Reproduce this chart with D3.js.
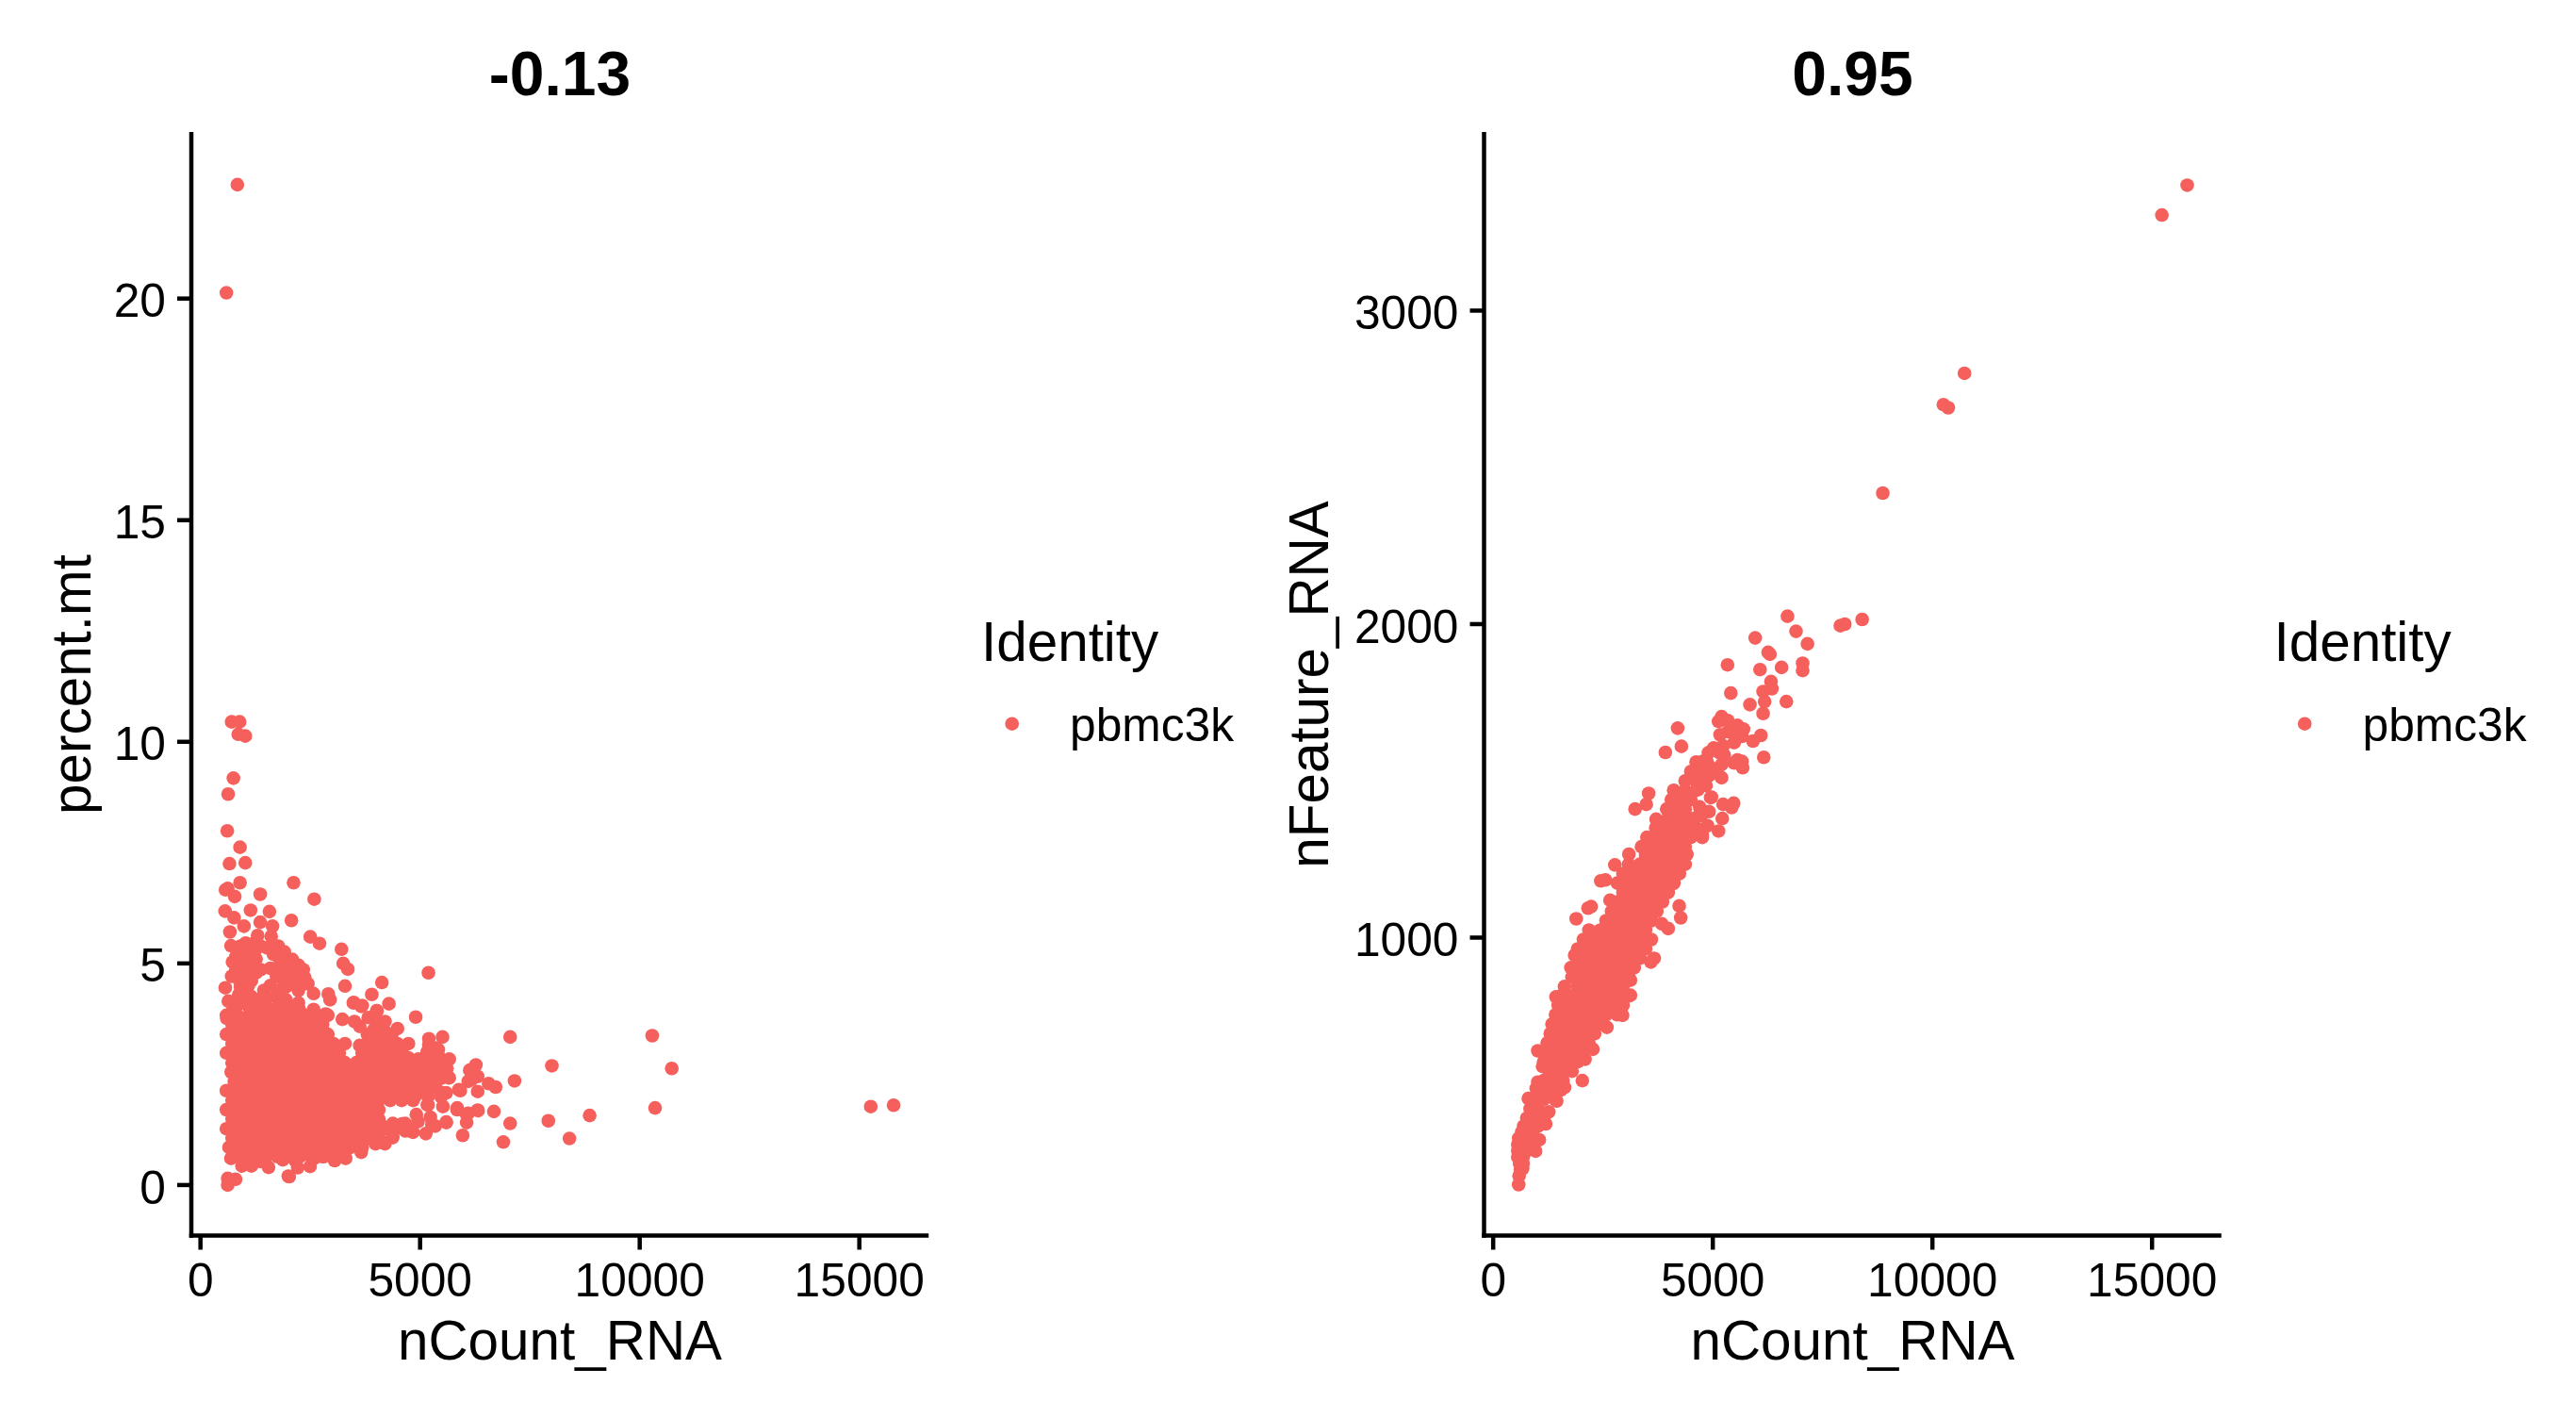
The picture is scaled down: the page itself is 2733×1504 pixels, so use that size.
<!DOCTYPE html>
<html>
<head>
<meta charset="utf-8">
<script src="https://d3js.org/d3.v7.min.js"></script>
<style>
  body { margin: 0; background: #fff; }
  text { font-family: "Liberation Sans", Arial, sans-serif; fill: #000; }
</style>
</head>
<body>
<svg id="drawing_region"></svg>
<script>
// values, [nCount_RNA, percent.mt]
const mtOutliers = [
  [15780,1.8],[15260,1.77],[10730,2.63],[10285,3.37],[10350,1.74],
  [840,22.57],[590,20.13],[710,10.45],[890,10.45],[860,10.17],[1020,10.13],[750,9.18],[630,8.82],[610,7.99],
  [900,7.62],[660,7.25],[1020,7.27],[900,6.82],[2120,6.82],[2590,6.45],[1360,6.56],[570,6.66],[620,6.69],[780,6.51],
  [560,6.18],[1140,6.2],[1570,6.17],[765,6.03],[990,5.84],[1360,5.93],[2070,5.97],[1640,5.84],[670,5.71],[1300,5.63],
  [1610,5.61],[695,5.4],[2500,5.6],[2710,5.45],[3210,5.32],[3250,5],[3355,4.87],[5190,4.79],[4130,4.57],[3290,4.49],
  [3900,4.3],[4290,4.09],[3490,4.12],[3680,4.05],[4900,3.79],[4010,3.93],[2910,4.31],[2950,4.18],
  [7050,3.34],[8000,2.69],[7150,2.35],[7920,1.45],[8860,1.57],[8400,1.05],[6895,0.97],[7050,1.39],[6680,1.66],[5970,1.12],
  [6270,2.71],[6720,2.21],[6560,2.29],[6310,2.11],[6320,1.68],[6130,2.59],[6170,2.38],[6095,2.34],[6060,1.41],[6095,1.62],
  [5845,1.71],[5595,1.41],[5915,2.13],[5520,2.08],[5665,2.42],[5665,2.84],[5510,3.34],[5200,3.3],[5415,3.05],[5165,3.01],
  [5130,1.16],[5345,1.33],[620,0.15],[800,0.13],[620,0],[2020,0.19],[1550,0.4],[3660,0.74],
  [5200,3.16],[5380,3.09],[6310,2.45],[5480,1.99],[5180,1.99],[5165,1.81],[5845,1.74],[6310,1.69],[5235,1.53],[4805,1.21],[4665,1.22],[4375,1.07],[4200,0.93],[3985,0.93]
];
const mtEdge = [
  [1030,5.46],[1160,5.25],[1515,5.35],[1770,5.39],[1910,5.26],[870,5.25],[730,5.03],[1160,5.1],[1370,5.39],[2090,5.09],
  [2230,4.96],[2340,4.86],[1590,4.89],[1800,4.86],[2020,4.79],[2195,4.75],[1160,4.89],[945,4.96],[710,4.71],[1265,4.79],
  [1090,4.71],[2090,4.61],[2445,4.54],[565,4.45],[910,4.47],[1090,4.5],[1590,4.5],[1445,4.39],[1800,4.39],[2230,4.39],
  [2575,4.32],[635,4.15],[870,4.29],[1300,4.18],[1515,4.22],[1730,4.25],[1945,4.18],[2230,4.11],[870,4.08],[1090,4.04],
  [1265,4.04],[1515,4],[1770,4.04],[2020,4],[2245,3.97],[2575,3.96],[730,3.93],[600,3.76],[3480,4.11],[3660,4.03],
  [2850,3.86],[3230,3.74],[3505,3.69],[3820,3.78],[4020,3.93],[4200,3.69],[4485,3.53],[3950,3.51],[4235,3.44],[4020,3.65],
  [3625,3.58],[3625,3.15],[3880,3.19],[4485,3.19],[4735,3.19],[4165,3.19],[5165,2.98],[4305,2.91],[4590,2.98],[4735,2.87],
  [5450,2.73],[5165,2.62],[4880,2.69],[5650,2.42],[5880,2.15],[5595,2.08],[5305,2.34],[5020,2.45],[5380,2.55],[5165,2.06],
  [5180,1.81],[5520,1.77],[5845,1.7],[6060,1.59],[5595,1.42],[5270,1.35],[4840,1.19],[4590,1.38],[4915,1.59],[4375,1.1],
  [4165,0.96],[3950,1],[3305,0.6],[3055,0.55],[2805,0.64],[2495,0.42],[2215,0.39],[2000,0.2],[1160,0.43],[945,0.43],
  [695,0.6],[1370,0.53],[1875,0.57],[2160,0.55],[2590,0.6],
  [910,5.39],[1050,5.25],[980,4.79],[1265,5.1],[1160,4.61],[1875,4.64],[800,4.82],[1945,4.47],[1160,4.25],[945,4.61],[1875,4.89],
  [800,5.35],[1230,5.46],[1230,5.28],[800,5.14],[1050,5.1],[945,4.89],[800,4.96],[1195,4.93],[1375,4.86],[875,4.64],[1125,4.64],
  [1800,5.1],[1660,5.21],[1945,5],[2160,4.89],[2375,4.68],[1945,4.54],[2230,4.57],[1730,4.71],[1085,4.29],
  [3750,3.15],[4000,3.1],[4300,3.05],[4600,3.1],[3800,3.4],[4000,3.35],[4350,3.35]
];
const mtCore = [
  [590,3.83],[840,3.83],[1100,3.83],[1360,3.83],[1620,3.83],[1870,3.83],[2130,3.83],[2390,3.83],[2650,3.83],[2900,3.83],
  [720,3.62],[970,3.62],[1230,3.62],[1490,3.62],[1750,3.62],[2000,3.62],[2260,3.62],[2520,3.62],[2780,3.62],
  [590,3.4],[840,3.4],[1100,3.4],[1360,3.4],[1620,3.4],[1870,3.4],[2130,3.4],[2390,3.4],[2650,3.4],[2900,3.4],
  [720,3.19],[970,3.19],[1230,3.19],[1490,3.19],[1750,3.19],[2000,3.19],[2260,3.19],[2520,3.19],[2780,3.19],[3030,3.19],[3290,3.19],
  [590,2.98],[840,2.98],[1100,2.98],[1360,2.98],[1620,2.98],[1870,2.98],[2130,2.98],[2390,2.98],[2650,2.98],[2900,2.98],[3160,2.98],[3680,2.98],[3930,2.98],[4190,2.98],
  [720,2.76],[970,2.76],[1230,2.76],[1490,2.76],[1750,2.76],[2000,2.76],[2260,2.76],[2520,2.76],[2780,2.76],[3030,2.76],[3290,2.76],[3550,2.76],[3810,2.76],[4060,2.76],[4320,2.76],[4580,2.76],
  [700,2.55],[840,2.55],[1100,2.55],[1360,2.55],[1620,2.55],[1870,2.55],[2130,2.55],[2390,2.55],[2650,2.55],[2900,2.55],[3160,2.55],[3420,2.55],[3680,2.55],[3930,2.55],[4190,2.55],[4450,2.55],[4710,2.55],
  [770,2.34],[970,2.34],[1230,2.34],[1490,2.34],[1750,2.34],[2000,2.34],[2260,2.34],[2520,2.34],[2780,2.34],[3030,2.34],[3290,2.34],[3550,2.34],[3810,2.34],[4060,2.34],[4320,2.34],[4580,2.34],[4840,2.34],
  [590,2.13],[840,2.13],[1100,2.13],[1360,2.13],[1620,2.13],[1870,2.13],[2130,2.13],[2390,2.13],[2650,2.13],[2900,2.13],[3160,2.13],[3420,2.13],[3680,2.13],[3930,2.13],[4190,2.13],[4450,2.13],[4710,2.13],[4960,2.13],
  [720,1.91],[970,1.91],[1230,1.91],[1490,1.91],[1750,1.91],[2000,1.91],[2260,1.91],[2520,1.91],[2780,1.91],[3030,1.91],[3290,1.91],[3550,1.91],[3810,1.91],[4060,1.91],[4320,1.91],[4580,1.91],[4840,1.91],
  [590,1.7],[840,1.7],[1100,1.7],[1360,1.7],[1620,1.7],[1870,1.7],[2130,1.7],[2390,1.7],[2650,1.7],[2900,1.7],[3160,1.7],[3420,1.7],[3680,1.7],[3930,1.7],[4060,1.7],
  [720,1.49],[970,1.49],[1230,1.49],[1490,1.49],[1750,1.49],[2000,1.49],[2260,1.49],[2520,1.49],[2780,1.49],[3030,1.49],[3290,1.49],[3550,1.49],[3810,1.49],[4060,1.49],
  [590,1.27],[840,1.27],[1100,1.27],[1360,1.27],[1620,1.27],[1870,1.27],[2130,1.27],[2390,1.27],[2650,1.27],[2900,1.27],[3160,1.27],[3420,1.27],[3680,1.27],[3930,1.27],[4190,1.27],[4450,1.27],[4710,1.27],
  [720,1.06],[970,1.06],[1230,1.06],[1490,1.06],[1750,1.06],[2000,1.06],[2260,1.06],[2520,1.06],[2780,1.06],[3030,1.06],[3290,1.06],[3550,1.06],[3810,1.06],[4060,1.06],
  [650,0.85],[840,0.85],[1100,0.85],[1360,0.85],[1620,0.85],[1870,0.85],[2130,0.85],[2390,0.85],[2650,0.85],[2900,0.85],[3160,0.85],[3420,0.85],[3680,0.85],
  [720,0.64],[970,0.64],[1230,0.64],[1490,0.64],[1750,0.64],[2000,0.64],[2260,0.64],[2520,0.64],[2780,0.64],[3030,0.64],[3290,0.64],
  // right-hand part of the dense area
  [3930,2.84],[4190,2.84],[4450,2.84],[4710,2.84],[4960,2.84],[5220,2.84],[5480,2.84],
  [3805,2.63],[4060,2.63],[4320,2.63],[4580,2.63],[4835,2.63],[5090,2.63],[5350,2.63],[5610,2.63],
  [3930,2.41],[4190,2.41],[4450,2.41],[4710,2.41],[4960,2.41],[5220,2.41],[5480,2.41],
  [3805,2.2],[4060,2.2],[4320,2.2],[4580,2.2],[4835,2.2],[5090,2.2],[5350,2.2],
  [3930,1.99],[4190,1.99],[4450,1.99],[4710,1.99],[4880,1.99],
  [3805,1.39],[4090,1.39],[4380,1.39],[4660,1.39],[4950,1.43]
];

// [nCount_RNA, nFeature_RNA]
const featureOutliers = [
  [15800,3400],[15225,3305],[10730,2800],[10250,2700],[10360,2690],[8870,2418],
  [6700,2025],[6895,1977],[7155,1937],[5965,1956],[6260,1910],[6300,1904],[7045,1875],[7045,1852],[6565,1862],[6075,1855],
  [5335,1870],[6325,1817],[6345,1794],[6145,1785],[5410,1780],[6180,1753],[6675,1753],[5845,1743],[6145,1715],
  [7905,1995],[8005,2000],[8400,2015],[5915,1627],[6095,1645],[6160,1575],[5665,1562],[5680,1542],[5235,1425],[5475,1429],[5430,1415],
  [5215,1380],[5130,1340],[4880,1357],[4760,1327],[4200,1668],[4285,1610],[3920,1591],[3230,1410],[3485,1425],[3540,1460],[3710,1378]
];
const featureCore = [
  [5200,1705],[5130,1690],[5345,1692],[5560,1677],[5700,1665],[5165,1647],[5345,1657],[5520,1650],[5665,1642],[5485,1622],
  [5020,1605],[5235,1612],[5260,1582],[5560,1567],[5485,1557],[4770,1562],[4915,1547],[5200,1552],[5060,1537],[5200,1510],
  [4770,1527],[4630,1507],[4915,1517],[4810,1487],[4950,1447],[4665,1472],[4915,1402],[4700,1417],[4665,1387],
  [4900,1590],[5150,1590],[4620,1560],[4870,1560],[4500,1530],[4750,1530],[4370,1500],[4620,1500],[4800,1500],
  [4985,1525],[4845,1485],[4970,1448],[4770,1405],[4735,1390],[4555,1345],[4200,1385],[3985,1405],
  [4110,1470],[4370,1470],[4620,1470],[4056,1440],[4240,1440],[4500,1440],[3950,1410],[4110,1410],[4370,1410],
  [3980,1380],[4240,1380],[4480,1380],[3700,1350],[3860,1350],[4110,1350],[4370,1350],[4620,1350],
  [3500,1320],[3720,1320],[3980,1320],[4240,1320],[4500,1320],[4760,1320],[3376,1290],[3600,1290],[3850,1290],[4110,1290],[4370,1290],
  [3090,1266],[4410,1266],[3470,1264],[3730,1264],[3985,1264],[4240,1264],
  [3085,1234],[3340,1234],[3600,1234],[3855,1234],[4115,1234],[4370,1234],[2770,1232],
  [2955,1204],[3210,1204],[3470,1204],[3725,1204],[3985,1204],[4240,1204],
  [2450,1181],[2555,1184],[2825,1174],[3085,1174],[3340,1174],[3600,1174],[3855,1174],[4115,1174],
  [2955,1144],[3210,1144],[3470,1144],[3725,1144],[3985,1144],
  [2660,1119],[2825,1114],[3085,1114],[3340,1114],[3600,1114],[3855,1114],
  [2230,1099],[2160,1094],[4235,1101],[2695,1084],[2955,1084],[3210,1084],[3470,1084],[3725,1084],
  [1890,1060],[4270,1063],[2570,1054],[2825,1054],[3085,1054],[3340,1054],[3600,1054],[3985,1029],[3840,1044],
  [2180,1024],[2440,1024],[2695,1024],[2955,1024],[3210,1024],[3470,1024],
  [2055,994],[2310,994],[2570,994],[2825,994],[3085,994],[3340,994],[3600,994],
  [1925,964],[2180,964],[2440,964],[2695,964],[2955,964],[3210,964],[3470,964],
  [1855,944],[2055,934],[2310,934],[2570,934],[2825,934],[3085,934],[3340,934],[3665,934],[3590,922],
  [1770,904],[1925,904],[2180,904],[2440,904],[2695,904],[2955,904],[3210,904],
  [1795,874],[2055,874],[2310,874],[2570,874],[2825,874],[3085,874],
  [1625,844],[1925,844],[2180,844],[2440,844],[2695,844],[2955,844],[3125,864],
  [1430,811],[1540,814],[1795,814],[2055,814],[2310,814],[2570,814],[2825,814],[3085,814],[3125,816],
  [1480,784],[1665,784],[1925,784],[2180,784],[2440,784],[2695,784],[2955,784],
  [1420,754],[1540,754],[1795,754],[2055,754],[2310,754],[2570,754],[2825,754],[2945,752],
  [1340,724],[1410,724],[1665,724],[1925,724],[2180,724],[2440,724],[2590,714],
  [1300,694],[1540,694],[1795,694],[2055,694],[2310,694],
  [1230,664],[1410,664],[1665,664],[1925,664],[2180,664],
  [1015,639],[1280,634],[1540,634],[1795,634],[2055,634],[2270,644],
  [1150,604],[1410,604],[1665,604],[1925,604],[2090,612],[1125,589],
  [1280,574],[1540,574],[1795,574],[1015,539],[1150,544],[1410,544],[1590,544],[2030,544],
  [980,519],[1025,514],[1280,514],[1540,514],[1625,522],
  [800,487],[895,484],[1150,484],[1410,484],[1445,479],
  [840,454],[1025,454],[1265,444],[765,424],[895,424],[1150,424],
  [695,399],[770,399],[1025,399],[650,380],[900,380],[1195,406],[580,360],[850,360],[1050,355],
  [560,340],[695,340],[900,340],[560,320],[760,320],[965,319],[560,300],[680,300],[600,280],[680,280],[620,260],[670,263],[590,240],[580,212]
];

const xTicks = [0, 5000, 10000, 15000];
const mtTicks = [0, 5, 10, 15, 20];
const featureTicks = [1000, 2000, 3000];

const panels = [
  { title: '-0.13', yLabel: 'percent.mt', left: 203, yLabelX: 95.5, yDomain: [-1.14, 23.71], yTicks: mtTicks, cells: [mtCore, mtEdge, mtOutliers] },
  { title: '0.95', yLabel: 'nFeature_RNA', left: 1574.5, yLabelX: 1409, yDomain: [49.6, 3563], yTicks: featureTicks, cells: [featureCore, featureOutliers] }
];

const config = {
  width: 2733, height: 1504,
  panelWidth: 780, top: 142.25, bottom: 1310.5,
  radius: 7.3, color: '#f5605c'
};

const svg = d3.select('#drawing_region')
  .attr('width', config.width)
  .attr('height', config.height);

panels.forEach(drawPanel);

function drawPanel(p) {
  const g = svg.append('g');
  const right = p.left + config.panelWidth;

  const xScale = d3.scaleLinear().domain([-208, 16530]).range([p.left, right]);
  const yScale = d3.scaleLinear().domain(p.yDomain).range([config.bottom, config.top]);

  const cells = p.cells.flat();
  g.append('g').selectAll('circle')
    .data(cells)
    .join('circle')
    .attr('cx', d => xScale(d[0]))
    .attr('cy', d => yScale(d[1]))
    .attr('r', config.radius)
    .attr('fill', config.color);

  const xAxis = d3.axisBottom(xScale).tickValues(xTicks).tickFormat(d3.format('d'))
    .tickSize(15).tickSizeOuter(0).tickPadding(14).offset(0);
  const yAxis = d3.axisLeft(yScale).tickValues(p.yTicks).tickFormat(d3.format('d'))
    .tickSize(15).tickSizeOuter(0).tickPadding(12).offset(0);

  const xg = g.append('g').attr('transform', `translate(0,${config.bottom})`).call(xAxis);
  const yg = g.append('g').attr('transform', `translate(${p.left},0)`).call(yAxis);
  yg.selectAll('text').attr('dy', '0.395em');

  [xg, yg].forEach(a => {
    a.attr('font-family', null).attr('font-size', null);
    a.selectAll('path, line').attr('stroke', '#000').attr('stroke-width', 4.5);
    a.select('path').attr('stroke-linecap', 'square');
    a.selectAll('text').style('font-size', '49.7px');
  });

  const mid = p.left + 391;
  g.append('text').attr('x', mid).attr('y', 101)
    .attr('text-anchor', 'middle')
    .style('font-size', '66px').style('font-weight', 'bold')
    .text(p.title);
  g.append('text').attr('x', mid).attr('y', 1441.5)
    .attr('text-anchor', 'middle')
    .style('font-size', '58.4px')
    .text('nCount_RNA');
  g.append('text')
    .attr('transform', `translate(${p.yLabelX},726) rotate(-90)`)
    .attr('text-anchor', 'middle')
    .style('font-size', '58.4px')
    .text(p.yLabel);

  // legend
  g.append('text').attr('x', p.left + 838).attr('y', 701)
    .style('font-size', '58.4px').text('Identity');
  g.append('circle').attr('cx', p.left + 870.7).attr('cy', 767.7)
    .attr('r', config.radius).attr('fill', config.color);
  g.append('text').attr('x', p.left + 932).attr('y', 786)
    .style('font-size', '49.7px').text('pbmc3k');
}
</script>
</body>
</html>
